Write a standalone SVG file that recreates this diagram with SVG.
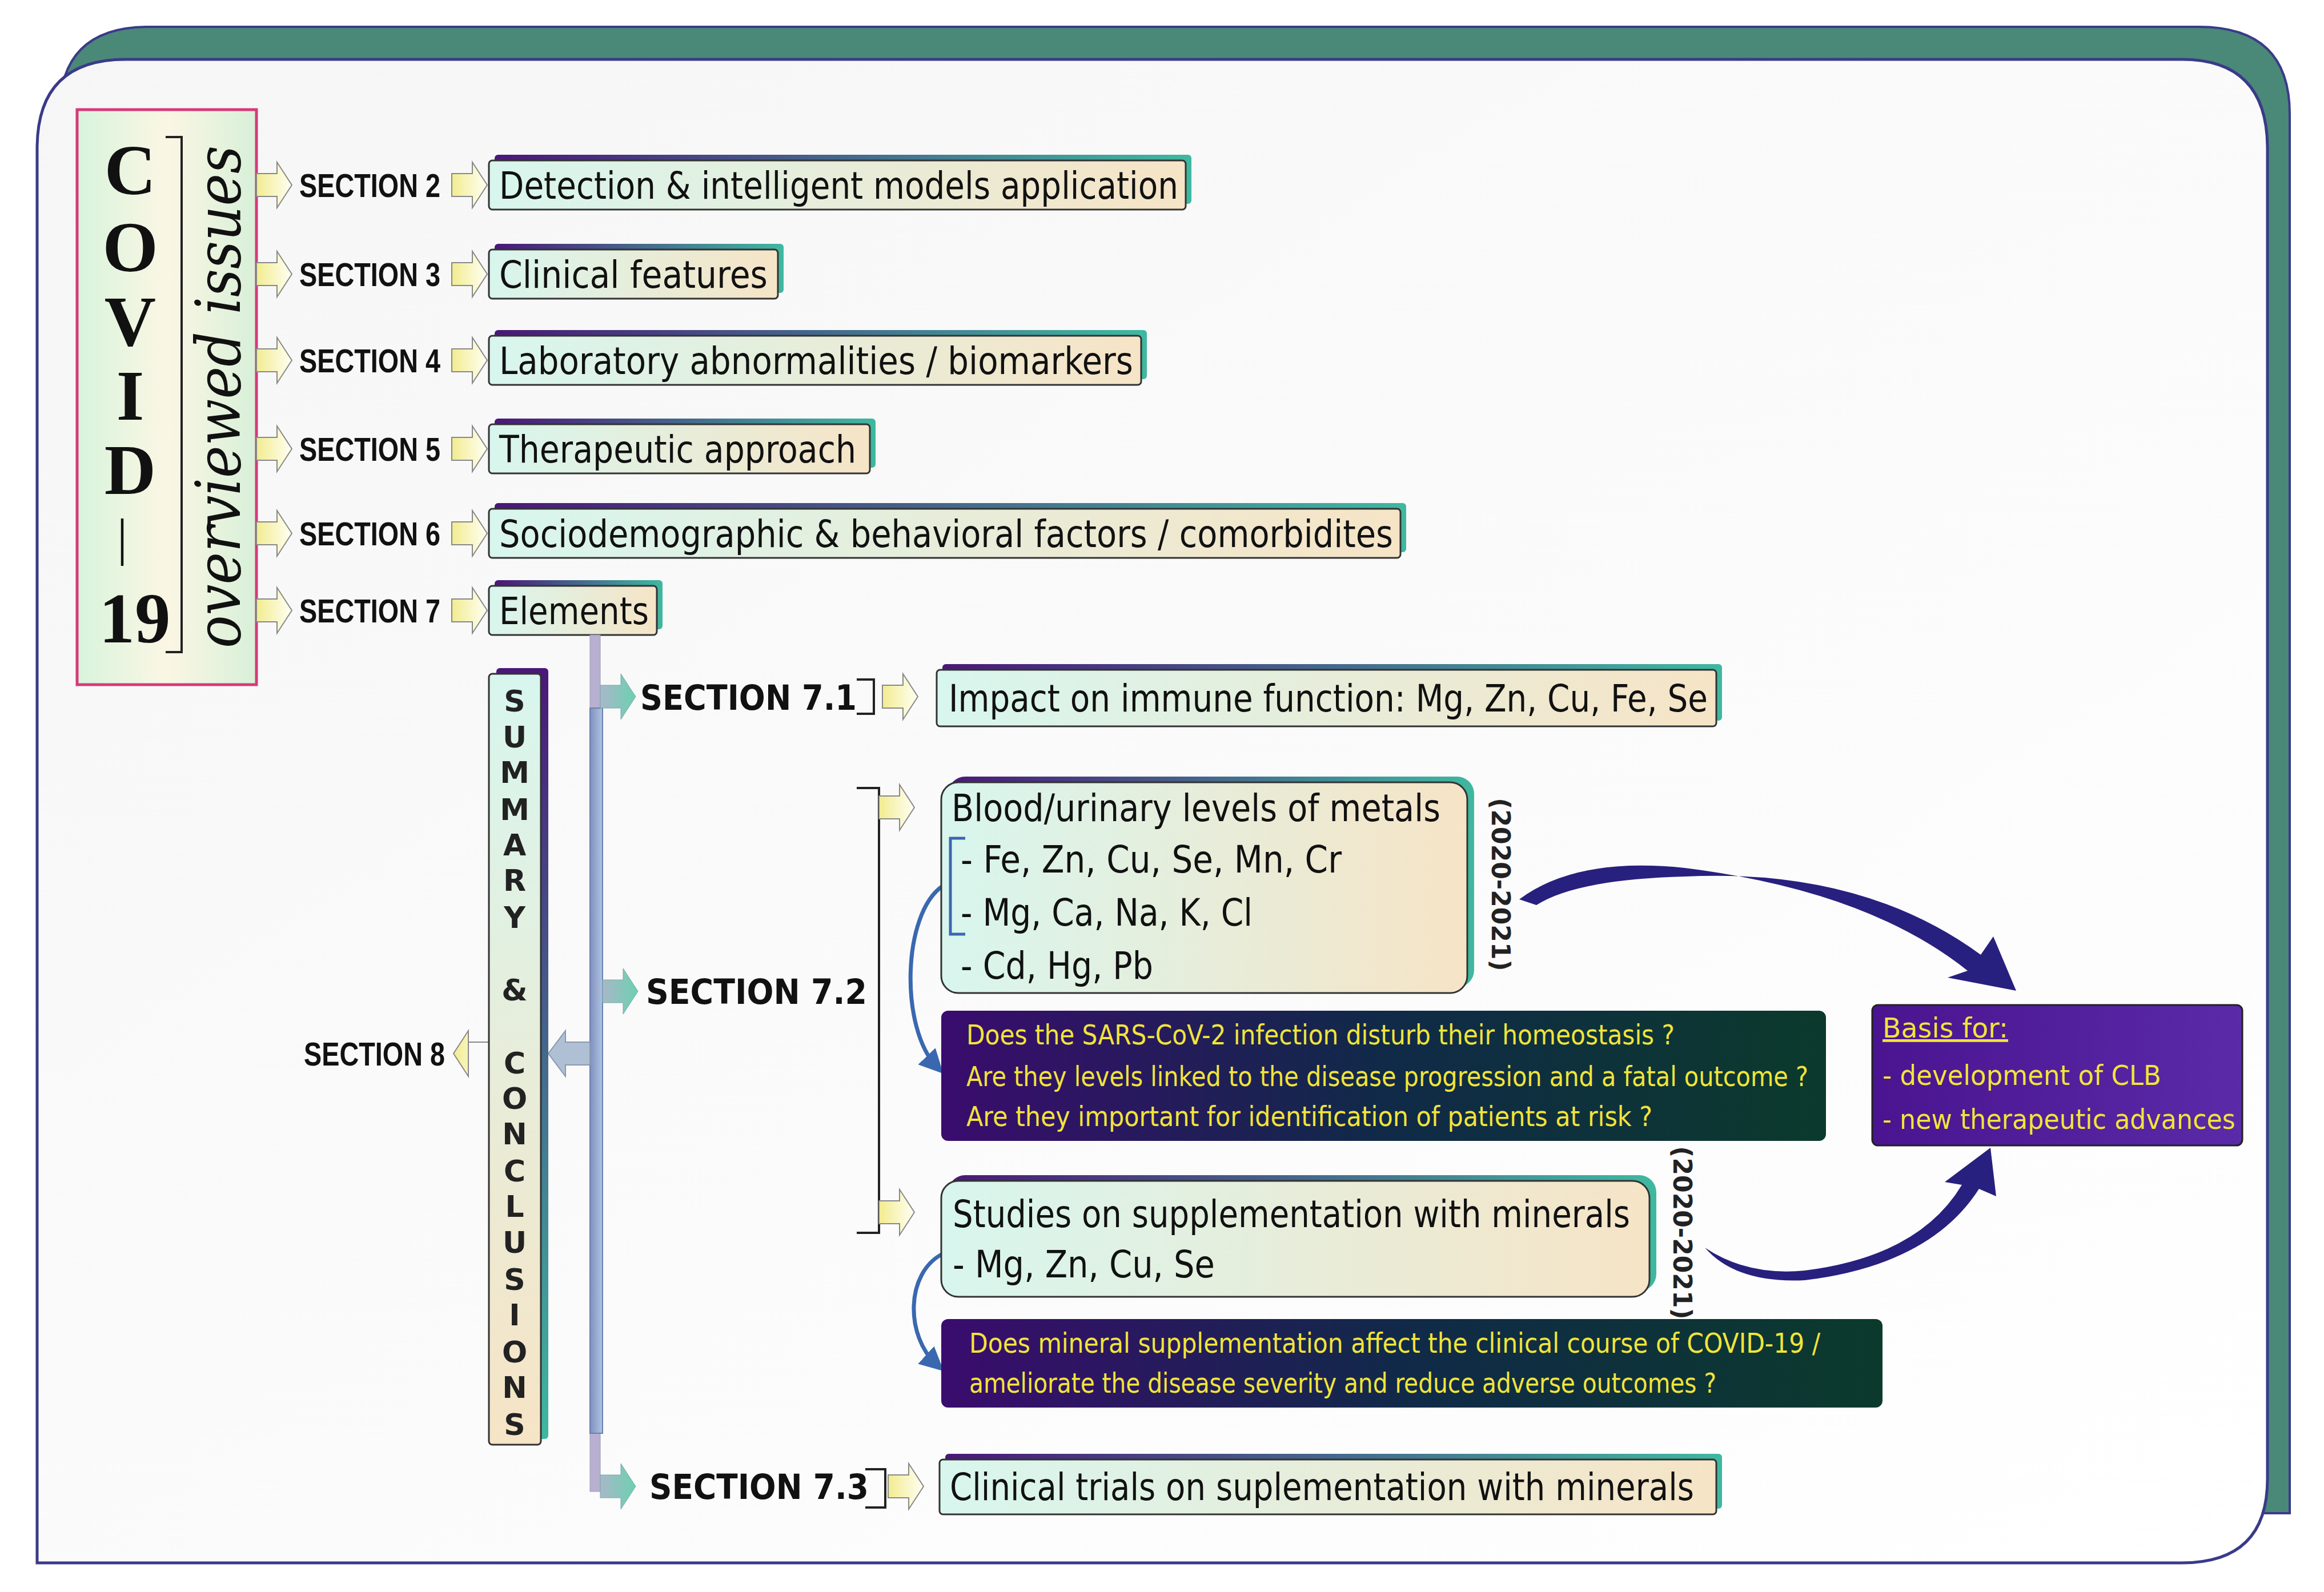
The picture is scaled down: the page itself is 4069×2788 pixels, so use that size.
<svg xmlns="http://www.w3.org/2000/svg" width="4069" height="2788" viewBox="0 0 4069 2788">
<defs>
<linearGradient id="boxg" x1="0" x2="1" y1="0" y2="0"><stop offset="0" stop-color="#d8f6ee"/><stop offset="1" stop-color="#f6e4c6"/></linearGradient>
<linearGradient id="boxgv" x1="0" x2="0" y1="0" y2="1"><stop offset="0" stop-color="#d8f6ee"/><stop offset="1" stop-color="#f6e4c6"/></linearGradient>
<linearGradient id="shg" x1="0" x2="1" y1="0" y2="0"><stop offset="0" stop-color="#4a1878"/><stop offset="1" stop-color="#3fb8a0"/></linearGradient>
<linearGradient id="shgv" x1="0" x2="0" y1="0" y2="1"><stop offset="0" stop-color="#4a1878"/><stop offset="1" stop-color="#3fb8a0"/></linearGradient>
<linearGradient id="darkg" x1="0" x2="1" y1="0" y2="0"><stop offset="0" stop-color="#3a0c6e"/><stop offset="0.5" stop-color="#102a48"/><stop offset="1" stop-color="#0b3a2c"/></linearGradient>
<linearGradient id="basisg" x1="0" x2="1"><stop offset="0" stop-color="#4a1490"/><stop offset="1" stop-color="#5a2aa8"/></linearGradient>
<linearGradient id="covg" x1="0" x2="1"><stop offset="0" stop-color="#d8f4dc"/><stop offset="0.5" stop-color="#fbf6e4"/><stop offset="1" stop-color="#d8f0d8"/></linearGradient>
<linearGradient id="yel" x1="0" x2="1"><stop offset="0" stop-color="#f2ec90"/><stop offset="1" stop-color="#fffff4"/></linearGradient>
<linearGradient id="grn" x1="0" x2="1"><stop offset="0" stop-color="#a8b8c8"/><stop offset="1" stop-color="#6cd0b0"/></linearGradient>
<linearGradient id="bg" x1="0" x2="1" y1="0" y2="1"><stop offset="0" stop-color="#f6f6f6"/><stop offset="1" stop-color="#ffffff"/></linearGradient>
<linearGradient id="bar" x1="0" x2="1"><stop offset="0" stop-color="#7f90c0"/><stop offset="1" stop-color="#b0c4e0"/></linearGradient>
<path id="ya" d="M0,-20 H36 V-40 L62,0 L36,40 V20 H0Z" fill="url(#yel)" stroke="#888" stroke-width="2"/>
<path id="ga" d="M0,-20 H36 V-40 L62,0 L36,40 V20 H0Z" fill="url(#grn)" stroke="#7aa" stroke-width="1"/>
<path id="la" d="M0,-20 H-36 V-40 L-62,0 L-36,40 V-20 H0Z" fill="url(#yel)" stroke="#888" stroke-width="2"/>
<marker id="bh" viewBox="0 0 10 10" refX="6" refY="5" markerWidth="6" markerHeight="6" orient="auto"><path d="M0,0 L10,5 L0,10 Z" fill="#3a68b0"/></marker>
</defs>
<style>
.bx{fill:url(#boxg);stroke:#333;stroke-width:3}
.sh{fill:url(#shg)}
.t{font-family:"DejaVu Sans Condensed","DejaVu Sans",sans-serif;font-size:66px;fill:#111}
.sec{font-family:"Liberation Sans Narrow","Liberation Sans",sans-serif;font-weight:bold;font-size:58px;fill:#111}
.sec7{font-family:"DejaVu Sans","Liberation Sans",sans-serif;font-weight:bold;font-size:60px;fill:#111}
.q{font-family:"DejaVu Sans Condensed","DejaVu Sans",sans-serif;font-size:48px;fill:#f2e43a}
.sm{font-family:"DejaVu Sans","Liberation Sans",sans-serif;font-weight:bold;font-size:52px;fill:#222;text-anchor:middle}
.cv{font-family:"Liberation Serif",serif;font-weight:bold;font-size:125px;fill:#111;text-anchor:middle}
.yr{font-family:"DejaVu Sans","Liberation Sans",sans-serif;font-weight:bold;font-size:44px;fill:#222;text-anchor:middle}
</style>
<!-- frame -->
<path d="M104,200 Q104,47 260,47 H3850 Q4009,47 4009,200 V2650 H104Z" fill="#4a8878" stroke="#3a3a8a" stroke-width="4"/>
<path d="M65,260 Q65,104 220,104 H3820 Q3970,104 3970,260 V2590 Q3970,2737 3820,2737 H65Z" fill="url(#bg)" stroke="#3a3a8a" stroke-width="5"/>
<!-- COVID box -->
<g id="covid">
<rect x="135" y="192" width="314" height="1007" fill="url(#covg)" stroke="#d63a7a" stroke-width="5"/>
<text class="cv" x="228" y="340">C</text>
<text class="cv" x="228" y="475">O</text>
<text class="cv" x="228" y="605">V</text>
<text class="cv" x="228" y="735">I</text>
<text class="cv" x="228" y="865">D</text>
<text x="214" y="972" font-family="'Liberation Serif',serif" font-size="90" fill="#111" text-anchor="middle">|</text>
<text class="cv" x="236" y="1125">19</text>
<path d="M290,240 H318 V1142 H290" fill="none" stroke="#222" stroke-width="4"/>
<text transform="translate(420,695) rotate(-90)" text-anchor="middle" font-family="'DejaVu Serif',serif" font-style="italic" font-size="108" fill="#111" textLength="880" lengthAdjust="spacingAndGlyphs">overviewed issues</text>
</g>
<!-- section rows -->
<g id="rows">
<use href="#ya" x="449" y="324"/><text class="sec" x="524" y="345" textLength="247" lengthAdjust="spacingAndGlyphs">SECTION 2</text><use href="#ya" x="791" y="324"/>
<use href="#ya" x="449" y="480"/><text class="sec" x="524" y="501" textLength="247" lengthAdjust="spacingAndGlyphs">SECTION 3</text><use href="#ya" x="791" y="480"/>
<use href="#ya" x="449" y="631"/><text class="sec" x="524" y="652" textLength="247" lengthAdjust="spacingAndGlyphs">SECTION 4</text><use href="#ya" x="791" y="631"/>
<use href="#ya" x="449" y="786"/><text class="sec" x="524" y="807" textLength="247" lengthAdjust="spacingAndGlyphs">SECTION 5</text><use href="#ya" x="791" y="786"/>
<use href="#ya" x="449" y="934"/><text class="sec" x="524" y="955" textLength="247" lengthAdjust="spacingAndGlyphs">SECTION 6</text><use href="#ya" x="791" y="934"/>
<use href="#ya" x="449" y="1069"/><text class="sec" x="524" y="1090" textLength="247" lengthAdjust="spacingAndGlyphs">SECTION 7</text><use href="#ya" x="791" y="1069"/>
</g>
<g id="s2"><rect class="sh" x="866" y="271" width="1220" height="86" rx="6"/><rect class="bx" x="856" y="281" width="1220" height="86" rx="6"/><text class="t" x="874" y="348" textLength="1189" lengthAdjust="spacingAndGlyphs">Detection &amp; intelligent models application</text></g>
<g id="s3"><rect class="sh" x="866" y="427" width="506" height="86" rx="6"/><rect class="bx" x="856" y="437" width="506" height="86" rx="6"/><text class="t" x="874" y="504" textLength="470" lengthAdjust="spacingAndGlyphs">Clinical features</text></g>
<g id="s4"><rect class="sh" x="866" y="578" width="1142" height="86" rx="6"/><rect class="bx" x="856" y="588" width="1142" height="86" rx="6"/><text class="t" x="874" y="655" textLength="1110" lengthAdjust="spacingAndGlyphs">Laboratory abnormalities / biomarkers</text></g>
<g id="s5"><rect class="sh" x="866" y="733" width="667" height="86" rx="6"/><rect class="bx" x="856" y="743" width="667" height="86" rx="6"/><text class="t" x="874" y="810" textLength="625" lengthAdjust="spacingAndGlyphs">Therapeutic approach</text></g>
<g id="s6"><rect class="sh" x="866" y="881" width="1596" height="86" rx="6"/><rect class="bx" x="856" y="891" width="1596" height="86" rx="6"/><text class="t" x="874" y="958" textLength="1565" lengthAdjust="spacingAndGlyphs">Sociodemographic &amp; behavioral factors / comorbidites</text></g>
<g id="s7"><rect class="sh" x="866" y="1016" width="294" height="86" rx="6"/><rect class="bx" x="856" y="1026" width="294" height="86" rx="6"/><text class="t" x="874" y="1093" textLength="262" lengthAdjust="spacingAndGlyphs">Elements</text></g>
<!-- connectors -->
<g id="connectors">
<rect x="1033" y="1112" width="18" height="1500" fill="#b8b0d0" stroke="#9a9ab8" stroke-width="1"/>
<rect x="1033" y="1240" width="22" height="1270" fill="url(#bar)" stroke="#6a80b0" stroke-width="2"/>
<use href="#ga" x="1051" y="1220"/>
<use href="#ga" x="1055" y="1736"/>
<use href="#ga" x="1051" y="2603"/>
<path d="M1033,1825 H990 V1805 L960,1845 L990,1885 V1865 H1033Z" fill="#b0c0d4" stroke="#8898b0" stroke-width="2"/>
<use href="#la" x="856" y="1845"/>
<path d="M1500,1190 H1530 V1250 H1500" fill="none" stroke="#222" stroke-width="4"/>
<use href="#ya" x="1545" y="1220"/>
<path d="M1500,1380 H1539 V2159 H1500" fill="none" stroke="#222" stroke-width="4"/>
<use href="#ya" x="1539" y="1414"/>
<use href="#ya" x="1539" y="2123"/>
<path d="M1515,2573 H1550 V2640 H1515" fill="none" stroke="#222" stroke-width="4"/>
<use href="#ya" x="1555" y="2603"/>
<path d="M1650,1552 C1580,1600 1575,1800 1640,1868" fill="none" stroke="#3a68b0" stroke-width="7" marker-end="url(#bh)"/>
<path d="M1650,2196 C1585,2230 1585,2340 1640,2390" fill="none" stroke="#3a68b0" stroke-width="7" marker-end="url(#bh)"/>
<path d="M2660,1575 Q2760,1500 2950,1520 Q3270,1560 3445,1700 L3410,1712 L3530,1735 L3490,1640 L3468,1672 Q3260,1520 2950,1535 Q2760,1540 2690,1585Z" fill="#28207e"/>
<path d="M2985,2185 Q3060,2235 3160,2225 Q3360,2200 3435,2075 L3405,2070 L3485,2010 L3495,2095 L3465,2082 Q3380,2215 3160,2242 Q3040,2248 2985,2185Z" fill="#28207e"/>
</g>
<!-- summary -->
<g id="summary">
<rect x="869" y="1170" width="91" height="1350" rx="6" fill="url(#shgv)"/>
<rect x="856" y="1180" width="91" height="1350" rx="6" fill="url(#boxgv)" stroke="#333" stroke-width="3"/>
<text class="sm" x="901" y="1246">S</text><text class="sm" x="901" y="1309">U</text><text class="sm" x="901" y="1371">M</text><text class="sm" x="901" y="1436">M</text><text class="sm" x="901" y="1498">A</text><text class="sm" x="901" y="1560">R</text><text class="sm" x="901" y="1625">Y</text><text class="sm" x="901" y="1752">&amp;</text><text class="sm" x="901" y="1880">C</text><text class="sm" x="901" y="1942">O</text><text class="sm" x="901" y="2004">N</text><text class="sm" x="901" y="2069">C</text><text class="sm" x="901" y="2131">L</text><text class="sm" x="901" y="2194">U</text><text class="sm" x="901" y="2259">S</text><text class="sm" x="901" y="2321">I</text><text class="sm" x="901" y="2386">O</text><text class="sm" x="901" y="2448">N</text><text class="sm" x="901" y="2513">S</text>
</g>
<text class="sec" x="532" y="1866" textLength="247" lengthAdjust="spacingAndGlyphs">SECTION 8</text>
<text class="sec7" x="1121" y="1243" textLength="379" lengthAdjust="spacingAndGlyphs">SECTION 7.1</text>
<text class="sec7" x="1131" y="1758" textLength="387" lengthAdjust="spacingAndGlyphs">SECTION 7.2</text>
<text class="sec7" x="1137" y="2625" textLength="384" lengthAdjust="spacingAndGlyphs">SECTION 7.3</text>
<g id="s71"><rect class="sh" x="1650" y="1163" width="1365" height="99" rx="6"/><rect class="bx" x="1640" y="1173" width="1365" height="99" rx="6"/><text class="t" x="1661" y="1246" textLength="1329" lengthAdjust="spacingAndGlyphs">Impact on immune function: Mg, Zn, Cu, Fe, Se</text></g>
<g id="blood"><rect class="sh" x="1660" y="1360" width="921" height="369" rx="30"/><rect class="bx" x="1648" y="1370" width="921" height="369" rx="30"/>
<text class="t" x="1666" y="1438" font-size="72" textLength="856" lengthAdjust="spacingAndGlyphs">Blood/urinary levels of metals</text>
<text class="t" x="1682" y="1528" font-size="72" textLength="667" lengthAdjust="spacingAndGlyphs">- Fe, Zn, Cu, Se, Mn, Cr</text>
<text class="t" x="1682" y="1621" font-size="72" textLength="511" lengthAdjust="spacingAndGlyphs">- Mg, Ca, Na, K, Cl</text>
<text class="t" x="1682" y="1714" font-size="72" textLength="337" lengthAdjust="spacingAndGlyphs">- Cd, Hg, Pb</text>
<path d="M1690,1468 H1664 V1636 H1690" fill="none" stroke="#3a68b0" stroke-width="5"/></g>
<text class="yr" transform="translate(2612,1549) rotate(90)">(2020-2021)</text>
<g id="q1"><rect x="1648" y="1770" width="1549" height="228" rx="12" fill="url(#darkg)"/>
<text class="q" x="1692" y="1829" textLength="1240" lengthAdjust="spacingAndGlyphs">Does the SARS-CoV-2 infection disturb their homeostasis ?</text>
<text class="q" x="1692" y="1902" textLength="1474" lengthAdjust="spacingAndGlyphs">Are they levels linked to the disease progression and a fatal outcome ?</text>
<text class="q" x="1692" y="1972" textLength="1201" lengthAdjust="spacingAndGlyphs">Are they important for identification of patients at risk ?</text></g>
<g id="studies"><rect class="sh" x="1660" y="2058" width="1240" height="203" rx="30"/><rect class="bx" x="1648" y="2068" width="1240" height="203" rx="30"/>
<text class="t" x="1668" y="2149" font-size="72" textLength="1186" lengthAdjust="spacingAndGlyphs">Studies on supplementation with minerals</text>
<text class="t" x="1668" y="2237" font-size="72" textLength="459" lengthAdjust="spacingAndGlyphs">- Mg, Zn, Cu, Se</text></g>
<text class="yr" transform="translate(2930,2159) rotate(90)">(2020-2021)</text>
<g id="q2"><rect x="1648" y="2310" width="1648" height="155" rx="12" fill="url(#darkg)"/>
<text class="q" x="1697" y="2369" textLength="1490" lengthAdjust="spacingAndGlyphs">Does mineral supplementation affect the clinical course of COVID-19  /</text>
<text class="q" x="1697" y="2439" textLength="1308" lengthAdjust="spacingAndGlyphs">ameliorate the disease severity and reduce adverse outcomes ?</text></g>
<g id="basis"><rect x="3278" y="1760" width="648" height="246" rx="10" fill="url(#basisg)" stroke="#222" stroke-width="3"/>
<text class="q" x="3296" y="1817" font-size="54" text-decoration="underline" textLength="220" lengthAdjust="spacingAndGlyphs">Basis for:</text>
<text class="q" x="3296" y="1900" font-size="54" textLength="488" lengthAdjust="spacingAndGlyphs">- development of CLB</text>
<text class="q" x="3296" y="1977" font-size="54" textLength="618" lengthAdjust="spacingAndGlyphs">- new therapeutic advances</text></g>
<g id="s73"><rect class="sh" x="1655" y="2546" width="1360" height="96" rx="6"/><rect class="bx" x="1645" y="2556" width="1360" height="96" rx="6"/><text class="t" x="1663" y="2627" textLength="1303" lengthAdjust="spacingAndGlyphs">Clinical trials on suplementation with minerals</text></g>
</svg>
